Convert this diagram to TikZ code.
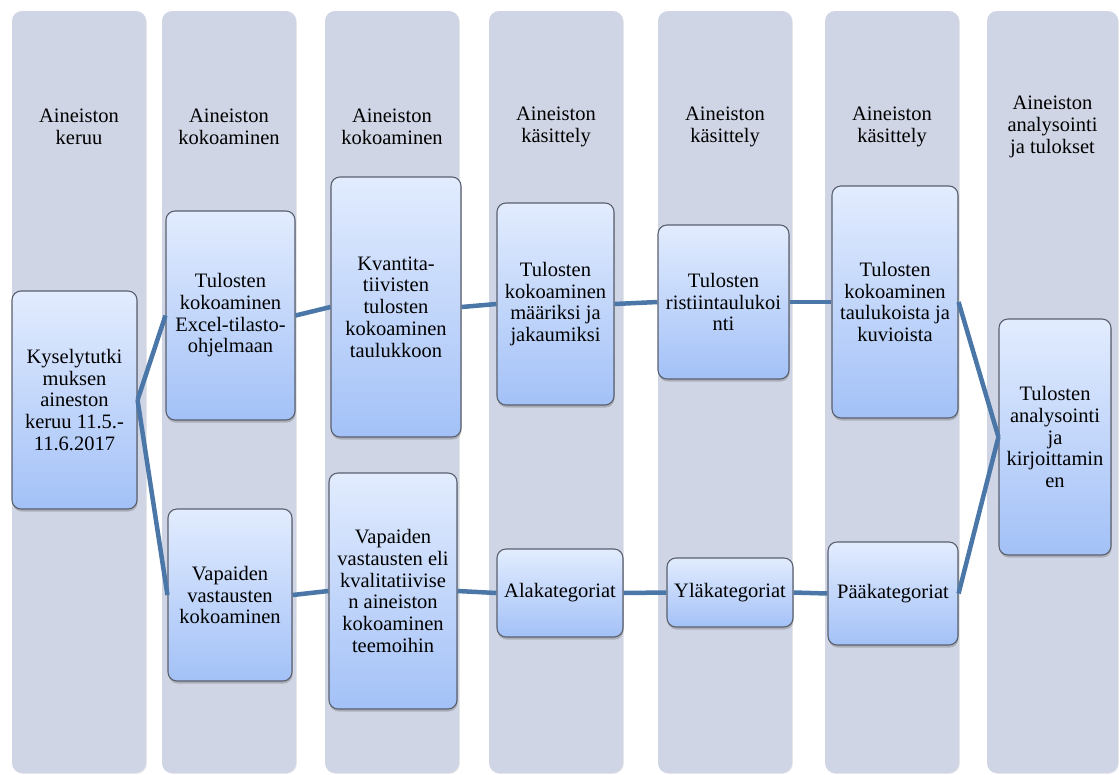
\documentclass[tikz,border=0pt]{standalone}
\usepackage{fontspec}
\setmainfont{Liberation Serif}
\usepackage{xcolor}
\usepackage{tikz}
\usetikzlibrary{shadows}

\definecolor{colfill}{RGB}{207,213,229}
\definecolor{boxtop}{RGB}{226,236,254}
\definecolor{boxbottom}{RGB}{163,193,247}
\definecolor{boxline}{RGB}{90,96,110}
\definecolor{linkblue}{RGB}{74,118,168}

\begin{document}
\begin{tikzpicture}[x=1pt, y=-1pt,
    column/.style={rectangle, fill=colfill, rounded corners=10pt, minimum width=134pt,
                   minimum height=762pt, inner sep=0pt,
                   drop shadow={opacity=0.18, shadow xshift=0.8pt, shadow yshift=-0.8pt}},
    head/.style={align=center, font=\fontsize{20.5}{21.7}\selectfont, text=black},
    block/.style={rectangle, draw=boxline, line width=1.1pt, rounded corners=9pt,
                  top color=boxtop, bottom color=boxbottom, inner sep=2pt, align=center,
                  font=\fontsize{20.5}{21.7}\selectfont,
                  drop shadow={opacity=0.45, shadow xshift=0.6pt, shadow yshift=-2.5pt}},
    link/.style={line width=4.5pt, draw=linkblue}]
    \useasboundingbox (0,0) rectangle (1119,774);

    % phase columns
    \node[column] (col1) at (79,392) {};
    \node[column] (col2) at (229,392) {};
    \node[column] (col3) at (392,392) {};
    \node[column] (col4) at (556,392) {};
    \node[column] (col5) at (725,392) {};
    \node[column] (col6) at (892,392) {};
    \node[column, minimum width=131pt] (col7) at (1052.5,392) {};

    \node[head] (h1) at (79,127) {Aineiston\\keruu};
    \node[head] (h2) at (229,127) {Aineiston\\kokoaminen};
    \node[head] (h3) at (392,127) {Aineiston\\kokoaminen};
    \node[head] (h4) at (556,127) {Aineiston\\käsittely};
    \node[head] (h5) at (725,127) {Aineiston\\käsittely};
    \node[head] (h6) at (892,127) {Aineiston\\käsittely};
    \node[head] (h7) at (1052.5,127) {Aineiston\\analysointi\\ja tulokset};

    % steps
    \node[block, minimum width=125pt, minimum height=218pt] (keruu) at (74.5,400)
        {Kyselytutki\\muksen\\aineston\\keruu 11.5.-\\11.6.2017};
    \node[block, minimum width=129pt, minimum height=209pt] (excel) at (230.5,315.5)
        {Tulosten\\kokoaminen\\Excel-tilasto-\\ohjelmaan};
    \node[block, minimum width=124pt, minimum height=172pt] (vapaat) at (230,595)
        {Vapaiden\\vastausten\\kokoaminen};
    \node[block, minimum width=130pt, minimum height=260pt] (kvant) at (396,307)
        {Kvantita-\\tiivisten\\tulosten\\kokoaminen\\taulukkoon};
    \node[block, minimum width=128pt, minimum height=236pt] (teemat) at (393,591)
        {Vapaiden\\vastausten eli\\kvalitatiivise\\n aineiston\\kokoaminen\\teemoihin};
    \node[block, minimum width=117pt, minimum height=202pt] (maarat) at (555.5,304)
        {Tulosten\\kokoaminen\\määriksi ja\\jakaumiksi};
    \node[block, minimum width=126pt, minimum height=88pt] (ala) at (560,593)
        {Alakategoriat};
    \node[block, minimum width=131pt, minimum height=154pt] (risti) at (723.5,302)
        {Tulosten\\ristiintaulukoi\\nti};
    \node[block, minimum width=126pt, minimum height=69pt] (yla) at (730,592.5)
        {Yläkategoriat};
    \node[block, minimum width=126pt, minimum height=232pt] (kuviot) at (895,302)
        {Tulosten\\kokoaminen\\taulukoista ja\\kuvioista};
    \node[block, minimum width=130pt, minimum height=103pt] (paa) at (893,593.5)
        {Pääkategoriat};
    \node[block, minimum width=112pt, minimum height=236pt] (analyysi) at (1055,437)
        {Tulosten\\analysointi\\ja\\kirjoittamin\\en};

    \draw[link] (keruu.east) -- (excel.west);
    \draw[link] (keruu.east) -- (vapaat.west);
    \draw[link] (excel.east) -- (kvant.west);
    \draw[link] (kvant.east) -- (maarat.west);
    \draw[link] (maarat.east) -- (risti.west);
    \draw[link] (risti.east) -- (kuviot.west);
    \draw[link] (kuviot.east) -- (analyysi.west);
    \draw[link] (vapaat.east) -- (teemat.west);
    \draw[link] (teemat.east) -- (ala.west);
    \draw[link] (ala.east) -- (yla.west);
    \draw[link] (yla.east) -- (paa.west);
    \draw[link] (paa.east) -- (analyysi.west);
\end{tikzpicture}
\end{document}
